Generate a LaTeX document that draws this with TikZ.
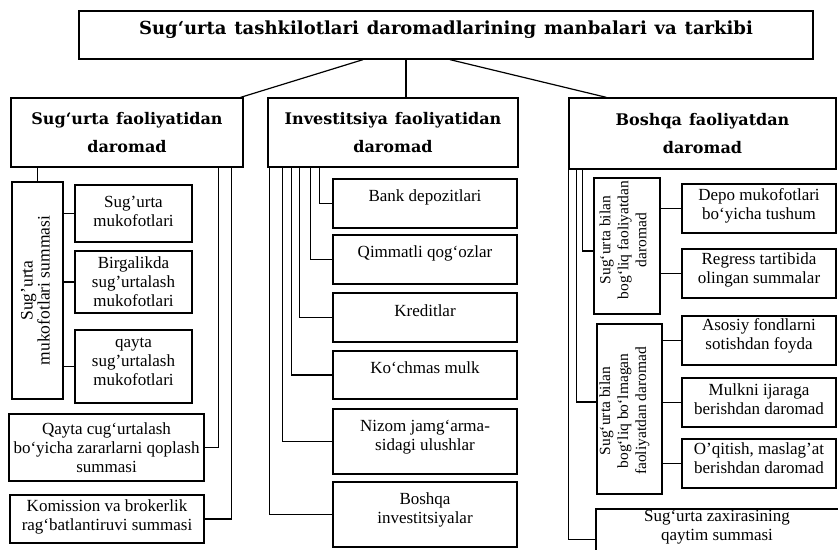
\documentclass[tikz,border=0pt]{standalone}
\usepackage{fontspec}
\setmainfont{Liberation Serif}
\newfontfamily\hdfont{DejaVu Serif}[WordSpace=1.25]
\newcommand\mkbox[8]{%
  \node[bx,minimum width={(#4-#2)*1pt},minimum height={(#5-#3)*1pt}] (#1) at ({(#2+#4)/2},{(#3+#5)/2}) {};
  \node[#6] (#1t) at ([#7]#1.center) {#8};}
\begin{document}
\begin{tikzpicture}[x=1pt,y=-1pt,
  bx/.style={draw,line width=1.3pt,inner sep=0pt},
  ln/.style={line width=1.2pt},
  ttl/.style={font=\hdfont\bfseries\fontsize{18}{20}\selectfont,inner sep=0pt},
  hd/.style={font=\hdfont\bfseries\fontsize{16}{27.5}\selectfont,align=center,inner sep=0pt},
  tx/.style={font=\fontsize{17}{19}\selectfont,align=center,inner sep=0pt},
  vt/.style={font=\fontsize{17.5}{17}\selectfont,align=center,inner sep=0pt,rotate=90},
  vr/.style={font=\fontsize{15.5}{18}\selectfont,align=center,inner sep=0pt,rotate=90}]
\useasboundingbox (0,0) rectangle (838,549);
\clip (0,0) rectangle (838,549);
\fill[white] (0,0) rectangle (838,549);
% title and headers
\mkbox{title}{79}{11}{813}{59}{ttl}{yshift=5pt}{Sug‘urta tashkilotlari daromadlarining manbalari va tarkibi}
\mkbox{s1}{11}{98}{243}{167}{hd}{yshift=0pt}{Sug‘urta faoliyatidan\\daromad}
\mkbox{s2}{268}{98}{518}{167}{hd}{yshift=0pt}{Investitsiya faoliyatidan\\daromad}
\mkbox{s3}{569}{98}{836}{169}{hd}{yshift=0pt}{Boshqa faoliyatdan\\daromad}
% left column
\mkbox{v1}{12}{182}{63}{399}{vt}{xshift=-2pt}{Sug’urta\\mukofotlari summasi}
\mkbox{a1}{75}{185}{192}{242}{tx}{yshift=2pt}{Sug’urta\\mukofotlari}
\mkbox{a2}{75}{251}{192}{313}{tx}{yshift=0pt}{Birgalikda\\sug’urtalash\\mukofotlari}
\mkbox{a3}{75}{330}{192}{403}{tx}{yshift=5pt}{qayta\\sug’urtalash\\mukofotlari}
\mkbox{q1}{9}{414}{204}{481}{tx}{yshift=0pt}{Qayta cug‘urtalash\\bo‘yicha zararlarni qoplash\\summasi}
\mkbox{q2}{10}{495}{204}{543}{tx}{yshift=2pt}{Komission va brokerlik\\rag‘batlantiruvi summasi}
% middle column
\mkbox{m1}{333}{179}{517}{228}{tx}{yshift=6pt}{Bank depozitlari}
\mkbox{m2}{333}{235}{517}{284}{tx}{yshift=6pt}{Qimmatli qog‘ozlar}
\mkbox{m3}{333}{293}{517}{342}{tx}{yshift=7pt}{Kreditlar}
\mkbox{m4}{333}{351}{517}{399}{tx}{yshift=7pt}{Ko‘chmas mulk}
\mkbox{m5}{333}{409}{517}{474}{tx}{yshift=4pt}{Nizom jamg‘arma-\\sidagi ulushlar}
\mkbox{m6}{333}{482}{517}{547}{tx}{yshift=5pt}{Boshqa\\investitsiyalar}
% right column
\mkbox{r1}{594}{178}{660}{314}{vr}{xshift=-4pt,yshift=6pt}{Sug‘urta bilan\\bog‘liq faoliyatdan\\daromad}
\mkbox{r2}{597}{324}{662}{494}{vr}{xshift=-5pt,yshift=-2pt}{Sug‘urta bilan\\bog‘liq bo‘lmagan\\faoliyatdan daromad}
\mkbox{d1}{682}{184}{836}{233}{tx}{yshift=3pt}{Depo mukofotlari\\bo‘yicha tushum}
\mkbox{d2}{682}{249}{836}{298}{tx}{yshift=4pt}{Regress tartibida\\olingan summalar}
\mkbox{d3}{682}{316}{836}{365}{tx}{yshift=5pt}{Asosiy fondlarni\\sotishdan foyda}
\mkbox{d4}{682}{378}{836}{427}{tx}{yshift=3pt}{Mulkni ijaraga\\berishdan daromad}
\mkbox{d5}{682}{439}{836}{488}{tx}{yshift=5pt}{O’qitish, maslag’at\\berishdan daromad}
\mkbox{z}{596}{509}{850}{570}{tx}{xshift=-6pt,yshift=12pt}{Sug‘urta zaxirasining\\qaytim summasi}
% connectors from title
\draw[ln] ([xshift=-83pt]title.south) -- ([xshift=-3pt]s1.north east);
\draw[ln] ([xshift=-40pt]title.south) -- ([xshift=-40pt]title.south |- s2.north);
\draw[ln] ([xshift=4pt]title.south) -- ([xshift=38pt]s3.north west);
% left connectors
\draw[ln] (v1.north |- s1.south) -- (v1.north);
\foreach \n in {a1,a2,a3} \draw[ln] (v1.east |- \n.west) -- (\n.west);
\draw[ln] ([xshift=-25pt]s1.south east) |- (q1.east);
\draw[ln] ([xshift=-12pt]s1.south east) |- (q2.east);
% middle connectors
\draw[ln] ([xshift=52pt]s2.south west) |- (m1.west);
\draw[ln] ([xshift=43pt]s2.south west) |- (m2.west);
\draw[ln] ([xshift=32pt]s2.south west) |- (m3.west);
\draw[ln] ([xshift=24pt]s2.south west) |- (m4.west);
\draw[ln] ([xshift=15pt]s2.south west) |- (m5.west);
\draw[ln] ([xshift=2pt]s2.south west) |- (m6.west);
% right connectors
\draw[ln] (s3.south west) |- (z.west);
\draw[ln] ([xshift=8pt]s3.south west) |- ([yshift=7pt]r2.west);
\draw[ln] ([xshift=14pt]s3.south west) |- ([yshift=-5pt]r1.west);
\foreach \n in {d1,d2} \draw[ln] (r1.east |- \n.west) -- (\n.west);
\foreach \n in {d3,d4,d5} \draw[ln] (r2.east |- \n.west) -- (\n.west);
\end{tikzpicture}
\end{document}
